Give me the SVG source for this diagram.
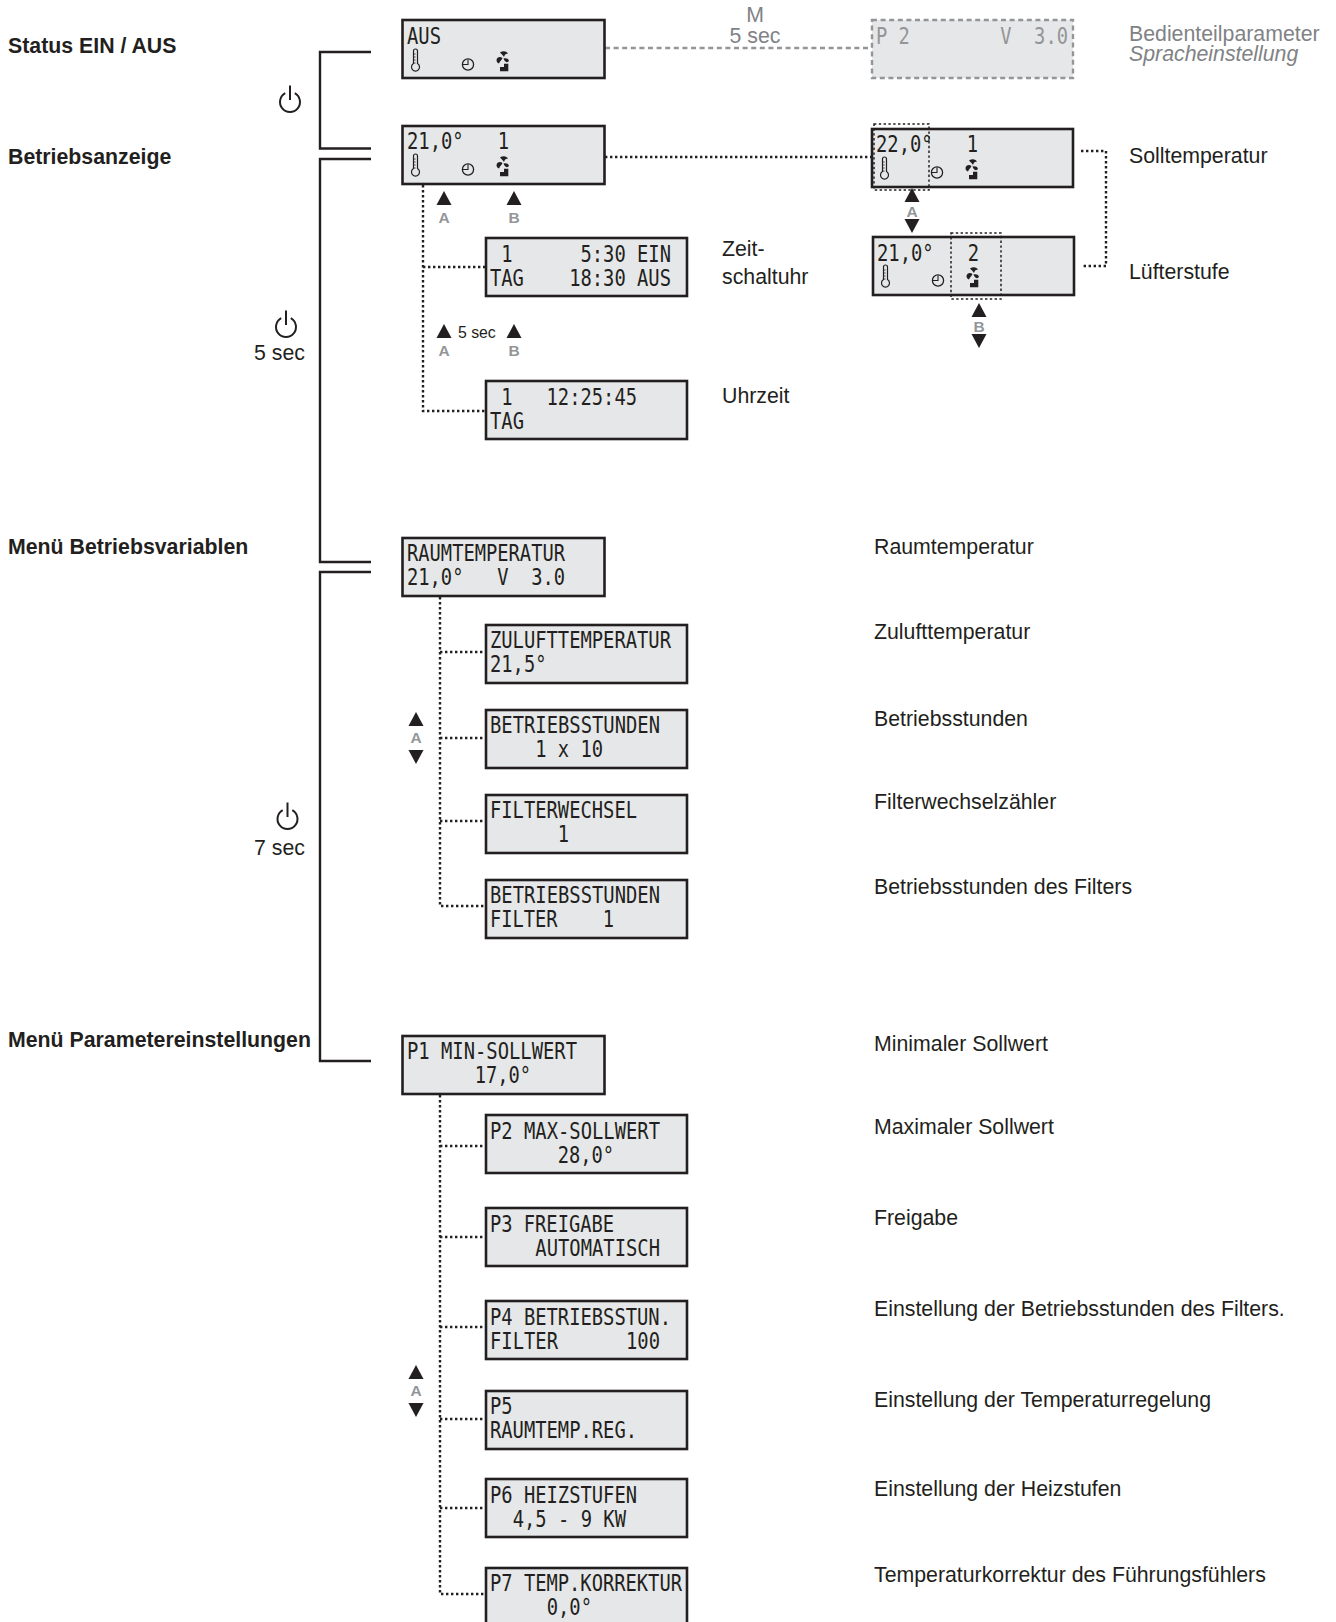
<svg xmlns="http://www.w3.org/2000/svg" width="1336" height="1622" viewBox="0 0 1336 1622">
<style>
.box{fill:#e6e7e8;stroke:#231f20;stroke-width:2.6}
.gbox{fill:#e6e7e8;stroke:#939598;stroke-width:2.4;stroke-dasharray:5 3.6}
.lcd{font-family:"DejaVu Sans Mono",monospace;font-size:23px;fill:#231f20;white-space:pre}
.lcdg{fill:#939598}
.b{font-family:"Liberation Sans",Arial,sans-serif;font-size:21.3px;font-weight:bold;fill:#231f20}
.l{font-family:"Liberation Sans",Arial,sans-serif;font-size:21.3px;fill:#231f20}
.g{fill:#808285}
.k{font-family:"Liberation Sans",Arial,sans-serif;font-size:15.5px;font-weight:bold;fill:#939598;text-anchor:middle}
.solid{fill:none;stroke:#231f20;stroke-width:2.4}
.dot{fill:none;stroke:#231f20;stroke-width:2.4;stroke-dasharray:2.4 2.6}
.sel{fill:none;stroke:#231f20;stroke-width:1.5;stroke-dasharray:2.4 2.4}
.dash{fill:none;stroke:#939598;stroke-width:2.4;stroke-dasharray:5 3.6}
.tri{fill:#231f20}
.pw{fill:none;stroke:#231f20;stroke-width:2}
</style>
<defs>
<g id="icons">
<path d="M11.500 31a2 2 0 0 1 4 0v12.600a4 4 0 1 1-4 0z" fill="none" stroke="#231f20" stroke-width="1.200"/>
<path d="M12 34h1.600M12 37h1.600M12 40h1.600M12 43h1.600" stroke="#231f20" stroke-width=".8"/>
<circle cx="66" cy="44.500" r="5.600" fill="none" stroke="#231f20" stroke-width="1.300"/>
<path d="M66 39.500V44.500H61" fill="none" stroke="#231f20" stroke-width="1.100"/>
<path d="M98 32.500C101 30.500 105 31 106 34C104 33.500 103 34 102 37C101 35 99 34 98 32.500zM94.500 40C95 37 98 36 100.500 38C100 40 98 41 97 43.500C95.500 43 94.500 42 94.500 40zM101.500 38.500C104 38 106.500 38.500 107 41C105.500 43 103 42.500 101.500 38.500z" fill="#231f20"/>
<path d="M98 51.300V47H102V43.700H106.300V51.300z" fill="#231f20"/>
</g>
<path id="up" d="M0 0L7.500 14H-7.500z"/>
<path id="down" d="M0 14L7.500 0H-7.500z"/>
<path id="power" d="M-4.800 -8.800A10 10 0 1 0 4.800 -8.800M0 -16.500V-2" />
</defs>

<g id="connectors">
<path class="solid" d="M371 52H320V148.500H371"/>
<path class="solid" d="M371 159H320V562H371"/>
<path class="solid" d="M371 572H320V1061H371"/>
<path class="dash" d="M605 48H871"/>
<path class="dot" d="M605 157H871"/>
<path class="dot" d="M423 185V411H485M423 267H485"/>
<path class="dot" d="M1081 151H1106V266H1082"/>
<path class="dot" d="M440 597V906H485M440 652H485M440 738H485M440 821H485"/>
<path class="dot" d="M440 1095V1594H485M440 1146H485M440 1237H485M440 1327H485M440 1419H485M440 1508H485"/>
</g>

<g id="node-aus"><rect class="box" x="402.500" y="20" width="202" height="58"/><text class="lcd" x="407" y="44" textLength="34" lengthAdjust="spacingAndGlyphs">AUS</text><use href="#icons" x="402" y="20"/></g>
<g id="node-p2-v"><rect class="gbox" x="872" y="20" width="201" height="58"/><text class="lcd lcdg" x="876" y="44" textLength="192" lengthAdjust="spacingAndGlyphs">P 2        V  3.0</text></g>
<g id="node-betrieb"><rect class="box" x="402.500" y="126" width="202" height="58"/><text class="lcd" x="407" y="149" textLength="102" lengthAdjust="spacingAndGlyphs">21,0°   1</text><use href="#icons" x="402" y="125"/></g>
<g id="node-soll"><rect class="box" x="872" y="129" width="201" height="58"/><text class="lcd" x="876" y="152" textLength="102" lengthAdjust="spacingAndGlyphs">22,0°   1</text><use href="#icons" x="871" y="128"/><rect class="sel" x="874" y="124" width="55" height="66"/></g>
<g id="node-luefter"><rect class="box" x="873" y="237" width="201" height="58"/><text class="lcd" x="877" y="261" textLength="102" lengthAdjust="spacingAndGlyphs">21,0°   2</text><use href="#icons" x="872" y="236"/><rect class="sel" x="951" y="233" width="50" height="66"/></g>
<g id="node-zeit"><rect class="box" x="486" y="238" width="201" height="58"/><text class="lcd" x="490" y="262" textLength="181" lengthAdjust="spacingAndGlyphs"> 1      5:30 EIN</text><text class="lcd" x="490" y="286" textLength="181" lengthAdjust="spacingAndGlyphs">TAG    18:30 AUS</text></g>
<g id="node-uhr"><rect class="box" x="486" y="381" width="201" height="58"/><text class="lcd" x="490" y="405" textLength="147" lengthAdjust="spacingAndGlyphs"> 1   12:25:45</text><text class="lcd" x="490" y="429" textLength="34" lengthAdjust="spacingAndGlyphs">TAG</text></g>
<g id="node-raum"><rect class="box" x="402.500" y="538" width="202" height="58"/><text class="lcd" x="407" y="561" textLength="158" lengthAdjust="spacingAndGlyphs">RAUMTEMPERATUR</text><text class="lcd" x="407" y="585" textLength="158" lengthAdjust="spacingAndGlyphs">21,0°   V  3.0</text></g>
<g id="node-zuluft"><rect class="box" x="486" y="625" width="201" height="58"/><text class="lcd" x="490" y="648" textLength="181" lengthAdjust="spacingAndGlyphs">ZULUFTTEMPERATUR</text><text class="lcd" x="490" y="672" textLength="56.500" lengthAdjust="spacingAndGlyphs">21,5°</text></g>
<g id="node-bstd"><rect class="box" x="486" y="710" width="201" height="58"/><text class="lcd" x="490" y="733" textLength="170" lengthAdjust="spacingAndGlyphs">BETRIEBSSTUNDEN</text><text class="lcd" x="490" y="757" textLength="113" lengthAdjust="spacingAndGlyphs">    1 x 10</text></g>
<g id="node-fw"><rect class="box" x="486" y="795" width="201" height="58"/><text class="lcd" x="490" y="818" textLength="147" lengthAdjust="spacingAndGlyphs">FILTERWECHSEL</text><text class="lcd" x="490" y="842" textLength="79" lengthAdjust="spacingAndGlyphs">      1</text></g>
<g id="node-bf"><rect class="box" x="486" y="880" width="201" height="58"/><text class="lcd" x="490" y="903" textLength="170" lengthAdjust="spacingAndGlyphs">BETRIEBSSTUNDEN</text><text class="lcd" x="490" y="927" textLength="124" lengthAdjust="spacingAndGlyphs">FILTER    1</text></g>
<g id="node-p1"><rect class="box" x="402.500" y="1036" width="202" height="58"/><text class="lcd" x="407" y="1059" textLength="170" lengthAdjust="spacingAndGlyphs">P1 MIN-SOLLWERT</text><text class="lcd" x="407" y="1083" textLength="124" lengthAdjust="spacingAndGlyphs">      17,0°</text></g>
<g id="node-p2"><rect class="box" x="486" y="1115" width="201" height="58"/><text class="lcd" x="490" y="1139" textLength="170" lengthAdjust="spacingAndGlyphs">P2 MAX-SOLLWERT</text><text class="lcd" x="490" y="1163" textLength="124" lengthAdjust="spacingAndGlyphs">      28,0°</text></g>
<g id="node-p3"><rect class="box" x="486" y="1208" width="201" height="58"/><text class="lcd" x="490" y="1232" textLength="124" lengthAdjust="spacingAndGlyphs">P3 FREIGABE</text><text class="lcd" x="490" y="1256" textLength="170" lengthAdjust="spacingAndGlyphs">    AUTOMATISCH</text></g>
<g id="node-p4"><rect class="box" x="486" y="1301" width="201" height="58"/><text class="lcd" x="490" y="1325" textLength="181" lengthAdjust="spacingAndGlyphs">P4 BETRIEBSSTUN.</text><text class="lcd" x="490" y="1349" textLength="170" lengthAdjust="spacingAndGlyphs">FILTER      100</text></g>
<g id="node-p5"><rect class="box" x="486" y="1391" width="201" height="58"/><text class="lcd" x="490" y="1414" textLength="22.600" lengthAdjust="spacingAndGlyphs">P5</text><text class="lcd" x="490" y="1438" textLength="147" lengthAdjust="spacingAndGlyphs">RAUMTEMP.REG.</text></g>
<g id="node-p6"><rect class="box" x="486" y="1479" width="201" height="58"/><text class="lcd" x="490" y="1503" textLength="147" lengthAdjust="spacingAndGlyphs">P6 HEIZSTUFEN</text><text class="lcd" x="490" y="1527" textLength="136" lengthAdjust="spacingAndGlyphs">  4,5 - 9 KW</text></g>
<g id="node-p7"><rect class="box" x="486" y="1568" width="201" height="58"/><text class="lcd" x="490" y="1591" textLength="192" lengthAdjust="spacingAndGlyphs">P7 TEMP.KORREKTUR</text><text class="lcd" x="490" y="1615" textLength="102" lengthAdjust="spacingAndGlyphs">     0,0°</text></g>

<g id="labels-left">
<text class="b" x="8" y="52.700">Status EIN / AUS</text>
<text class="b" x="8" y="163.700">Betriebsanzeige</text>
<text class="b" x="8" y="553.700">Menü Betriebsvariablen</text>
<text class="b" x="8" y="1046.700">Menü Parametereinstellungen</text>
</g>
<g id="labels-right">
<text class="l g" x="755" y="21.700" text-anchor="middle">M</text>
<text class="l g" x="755" y="42.700" text-anchor="middle">5 sec</text>
<text class="l g" x="1129" y="40.700">Bedienteilparameter</text>
<text class="l g" x="1129" y="60.700" font-style="italic">Spracheinstellung</text>
<text class="l" x="1129" y="162.700">Solltemperatur</text>
<text class="l" x="1129" y="278.700">Lüfterstufe</text>
<text class="l" x="722" y="255.700">Zeit-</text>
<text class="l" x="722" y="283.700">schaltuhr</text>
<text class="l" x="722" y="402.700">Uhrzeit</text>
<text class="l" x="874" y="553.700">Raumtemperatur</text>
<text class="l" x="874" y="638.700">Zulufttemperatur</text>
<text class="l" x="874" y="725.700">Betriebsstunden</text>
<text class="l" x="874" y="808.700">Filterwechselzähler</text>
<text class="l" x="874" y="893.700">Betriebsstunden des Filters</text>
<text class="l" x="874" y="1050.700">Minimaler Sollwert</text>
<text class="l" x="874" y="1133.700">Maximaler Sollwert</text>
<text class="l" x="874" y="1224.700">Freigabe</text>
<text class="l" x="874" y="1315.700">Einstellung der Betriebsstunden des Filters.</text>
<text class="l" x="874" y="1406.700">Einstellung der Temperaturregelung</text>
<text class="l" x="874" y="1495.700">Einstellung der Heizstufen</text>
<text class="l" x="874" y="1581.700">Temperaturkorrektur des Führungsfühlers</text>
</g>
<g id="power-keys">
<use href="#power" class="pw" x="290" y="102"/>
<use href="#power" class="pw" x="286" y="327"/>
<text class="l" x="305" y="359.700" text-anchor="end">5 sec</text>
<use href="#power" class="pw" x="287.500" y="819"/>
<text class="l" x="305" y="854.700" text-anchor="end">7 sec</text>
</g>
<g id="keys">
<use href="#up" class="tri" x="444" y="191"/><text class="k" x="444" y="223">A</text>
<use href="#up" class="tri" x="514" y="191"/><text class="k" x="514" y="223">B</text>
<use href="#up" class="tri" x="444" y="324"/><text class="k" x="444" y="356">A</text>
<use href="#up" class="tri" x="514" y="324"/><text class="k" x="514" y="356">B</text>
<text x="458" y="338" font-family="Liberation Sans, Arial, sans-serif" font-size="15.800" fill="#231f20">5 sec</text>
<use href="#up" class="tri" x="912" y="188"/><text class="k" x="912" y="216.500">A</text><use href="#down" class="tri" x="912" y="219"/>
<use href="#up" class="tri" x="979" y="303"/><text class="k" x="979" y="332">B</text><use href="#down" class="tri" x="979" y="334"/>
<use href="#up" class="tri" x="416" y="712"/><text class="k" x="416" y="743">A</text><use href="#down" class="tri" x="416" y="750"/>
<use href="#up" class="tri" x="416" y="1365"/><text class="k" x="416" y="1396">A</text><use href="#down" class="tri" x="416" y="1403"/>
</g>
</svg>
